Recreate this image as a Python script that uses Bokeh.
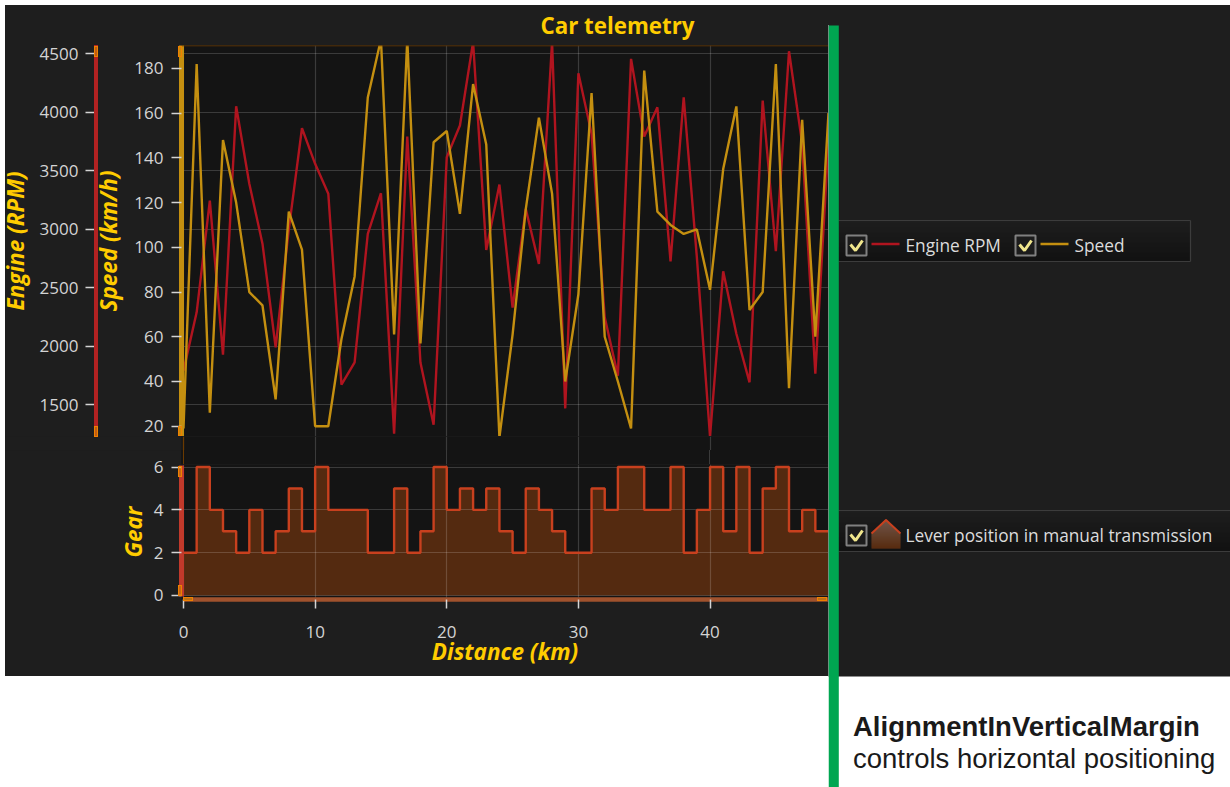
from bokeh.plotting import figure
from bokeh.layouts import row, column
from bokeh.models import Range1d, LinearAxis, FixedTicker, Grid, Span, Title, Div
from bokeh.core.properties import value
from bokeh.embed import file_html
from bokeh.resources import INLINE

title_text = "Car telemetry"
distance = list(range(50))
speed = [19, 182, 26, 148, 120, 80, 74, 32, 116, 99, 20, 20, 59, 87, 167, 193, 61, 193, 57, 147,
         152, 115, 173, 146, 15, 61, 117, 158, 124, 40, 79, 169, 60, 40, 19, 179, 116, 110, 106, 108,
         81, 135, 163, 72, 80, 182, 37, 157, 60, 160]
rpm = [1793, 2291, 3246, 1930, 4052, 3390, 2878, 1992, 3000, 3864, 3560, 3305, 1673, 1864, 2962, 3309, 1255, 3793, 1862, 1330,
       3616, 3887, 4600, 2824, 3383, 2331, 3175, 2705, 4600, 1470, 4334, 3817, 2249, 1750, 4457, 3793, 4043, 2727, 4129, 2761,
       1230, 2642, 2108, 1693, 4100, 2813, 4522, 3732, 1767, 3758]
gear = [2, 6, 4, 3, 2, 4, 2, 3, 5, 3, 6, 4, 4, 4, 2, 2, 5, 2, 3, 6,
        4, 5, 4, 5, 3, 2, 5, 4, 3, 2, 2, 5, 4, 6, 6, 4, 4, 6, 2, 4,
        6, 3, 6, 2, 5, 6, 3, 4, 3, 3]
speed_ticks = [20, 40, 60, 80, 100, 120, 140, 160, 180]
rpm_ticks = [1500, 2000, 2500, 3000, 3500, 4000, 4500]
gear_ticks = [0, 2, 4, 6]
x_ticks = [0, 10, 20, 30, 40]

PANEL = "#1e1e1e"; FRAME = "#141414"; TICK = "#d4d4d4"; YEL = "#ffcc00"
RED = "#b0141f"; GOLD = "#c48f10"; FONT = "Open Sans"
X_RANGE = (-0.152, 49.0)
OX = 7  # the stacked figures start this far left of the page edge
OY = 2  # and start at this page y

overlays = []
def overlay(l, t, r, b, color, border=None):
    st = {"position": "absolute", "left": f"{l + OX}px", "top": f"{t - OY}px", "background-color": color,
          "box-sizing": "border-box", "z-index": "5"}
    if border:
        st["border"] = f"1px solid {border}"
    overlays.append(Div(text="", width=int(round(r - l)), height=int(round(b - t)), margin=0, styles=st))

def handle(l, t, r, b):
    overlay(l, t, r, b, "rgba(200,134,10,0.6)", "#f08000")

def add_grids(p, yticks):
    if yticks:
        p.add_layout(Grid(dimension=1, ticker=FixedTicker(ticks=yticks), grid_line_color="white", grid_line_alpha=0.17,
                          grid_line_width=1.2, level="underlay"))
    p.add_layout(Grid(dimension=0, ticker=FixedTicker(ticks=x_ticks), grid_line_color="white", grid_line_alpha=0.17,
                      grid_line_width=1.2, level="underlay"))

def style_axis(a, color, w, tick_out=10, standoff=8):
    a.axis_line_color = color; a.axis_line_width = w
    a.major_tick_line_color = TICK; a.major_tick_line_width = 1.5
    a.major_tick_out = tick_out; a.major_tick_in = 0
    a.minor_tick_line_color = None
    a.major_label_text_color = TICK; a.major_label_text_font = FONT; a.major_label_text_font_size = "17px"
    a.major_label_standoff = standoff
    a.axis_label_text_color = YEL; a.axis_label_text_font = FONT
    a.axis_label_text_font_style = "bold italic"; a.axis_label_text_font_size = "22.5px"

base = dict(output_backend="svg", toolbar_location=None, x_axis_location=None, y_axis_location=None,
            background_fill_color=FRAME, border_fill_color=PANEL, outline_line_color=None,
            min_border_left=181 + OX, min_border_right=0, styles={"background-color": PANEL})

# ---------- upper chart ----------
p1 = figure(width=828 + OX, height=434, x_range=Range1d(*X_RANGE), y_range=Range1d(1230, 4571),
            min_border_top=43, min_border_bottom=0, **base)
p1.grid.visible = False
p1.title = Title(text=title_text, align="left", offset=359, text_color=YEL, text_font=FONT,
                 text_font_style="bold", text_font_size="22.3px", standoff=10)
add_grids(p1, rpm_ticks)
p1.extra_y_ranges = {"speed": Range1d(15.4, 190.25)}
sa = LinearAxis(y_range_name="speed", ticker=FixedTicker(ticks=speed_ticks), axis_label="Speed (km/h)", axis_label_standoff=7)
style_axis(sa, GOLD, 5)
ra = LinearAxis(ticker=FixedTicker(ticks=rpm_ticks), axis_label="Engine (RPM)", axis_label_standoff=6)
style_axis(ra, None, 4, tick_out=5, standoff=7)
ra.major_tick_in = 6
p1.add_layout(sa, "left")
p1.add_layout(ra, "left")
p1.line(distance, rpm, line_color=RED, line_width=2.4)
p1.line(distance, speed, y_range_name="speed", line_color=GOLD, line_width=2.4)
p1.add_layout(Span(location=4571, dimension="width", line_color="#6b3a00", line_width=1.5))

# ---------- gap between the two stacked charts ----------
gap = figure(width=828 + OX, height=14, x_range=Range1d(*X_RANGE), y_range=Range1d(0, 1),
             min_border_top=0, min_border_bottom=0, **base)
gap.grid.visible = False
add_grids(gap, [])
gap.add_layout(Span(location=0, dimension="height", line_color="#6b3a00", line_width=1.2))

# ---------- lower chart ----------
p2 = figure(width=828 + OX, height=226, x_range=Range1d(*X_RANGE), y_range=Range1d(-0.187, 6.12),
            min_border_top=14, min_border_bottom=77, **base)
p2.grid.visible = False
ga = LinearAxis(ticker=FixedTicker(ticks=gear_ticks), axis_label="Gear", axis_label_standoff=2, bounds=(-0.05, 6.05))
style_axis(ga, "#c0392b", 5)
p2.add_layout(ga, "left")
xa = LinearAxis(ticker=FixedTicker(ticks=x_ticks), axis_label="Distance (km)", axis_label_standoff=-5, bounds=(0, 49))
style_axis(xa, "#a0522d", 4.5, tick_out=9, standoff=17)
p2.add_layout(xa, "below")
p2.varea_step(x=distance, y1=[0] * len(gear), y2=gear, step_mode="after", fill_color="#542a10", level="underlay")
add_grids(p2, gear_ticks)
p2.step(distance, gear, mode="after", line_color="#c8401e", line_width=2.4)

# ---------- overlays in page pixels ----------
overlay(0, 0, 828, 5, "white")
overlay(0, 0, 5, 676, "white")
overlay(826, 5, 1230, 7, PANEL)
overlay(826, 5, 830, 25, PANEL)
overlay(181, 450, 828, 464, FRAME)
overlay(183, 450, 184, 464, "#6b3a00")
for t in x_ticks[1:]:
    overlay(183 + 13.16 * t, 450, 184 + 13.16 * t, 464, "rgba(255,255,255,0.17)")
overlay(94, 45, 98, 436, "#b22222")
handle(178, 46, 182, 57)
handle(178, 426, 182, 436)
handle(94, 46, 98, 57)
handle(94, 426, 98, 437)
handle(178, 466, 182, 477)
handle(178, 585, 182, 596)
handle(183, 597, 193, 601)
handle(817, 597, 827, 601)

# ---------- right side: green marker, legends, caption ----------
p3 = figure(width=402, height=785, output_backend="svg", toolbar_location=None,
            x_axis_location=None, y_axis_location=None,
            x_range=Range1d(828, 1230), y_range=Range1d(787, 2),
            background_fill_color="white", border_fill_color="white", outline_line_color=None,
            min_border=0)
p3.grid.visible = False
p3.quad(left=[820], right=[1240], top=[5], bottom=[676], fill_color=PANEL, line_color=None)

def legend_box(top, bottom, right):
    n = bottom - top
    for i in range(n):
        f = i / max(n - 1, 1)
        c = int(round(0x1e + (0x0e - 0x1e) * f))
        p3.quad(left=[838], right=[right], top=[top + i], bottom=[top + i + 1],
                fill_color=f"#{c:02x}{c:02x}{c:02x}", line_color=None)
    p3.multi_line([[838, right], [838, right], [right, right]], [[top, top], [bottom, bottom], [top, bottom]],
                  line_color="#3c3c3c", line_width=1.2)

def checkbox(x, y):
    p3.quad(left=[x], right=[x + 20], top=[y], bottom=[y + 20], fill_color="#1c1c1c", line_color="#808080", line_width=2)
    p3.line([x + 4, x + 9, x + 16], [y + 9, y + 15, y + 5], line_color="#f0e68c", line_width=3)

legend_box(220, 261, 1190)
checkbox(846, 235)
p3.line([871, 899], [243.5, 243.5], line_color=RED, line_width=2.5)
checkbox(1015, 235)
p3.line([1040, 1068], [243.5, 243.5], line_color=GOLD, line_width=2.5)
legend_box(510, 551, 1232)
checkbox(846, 525)
for i in range(29):
    yy = 519 + i
    half = min(14.5, (i + 0.5) * 1.05)
    f = i / 28
    c = [int(round(a + (b - a) * f)) for a, b in zip((0x8c, 0x6a, 0x5a), (0x70, 0x35, 0x10))]
    p3.quad(left=[885.5 - half], right=[885.5 + half], top=[yy], bottom=[yy + 1],
            fill_color="#%02x%02x%02x" % tuple(c), line_color=None)
p3.line([871, 885.5, 900], [533, 519.5, 533], line_color="#c8401e", line_width=2)

txt = dict(text_font=value(FONT), text_font_size="17.3px", text_color="#dcdcdc", text_baseline="middle")
p3.text(x=[905], y=[245], text=["Engine RPM"], **txt)
p3.text(x=[1074], y=[245], text=["Speed"], **txt)
p3.text(x=[905], y=[535], text=["Lever position in manual transmission"], **txt)
p3.quad(left=[828], right=[838.3], top=[25], bottom=[787], fill_color="#00a651", line_color=None)
p3.text(x=[852.5], y=[726], text=["AlignmentInVerticalMargin"], text_font=value("Liberation Sans"), text_font_style="bold",
        text_font_size="27.5px", text_color="#1a1a1a", text_baseline="middle")
p3.text(x=[852.5], y=[758], text=["controls horizontal positioning"], text_font=value("Liberation Sans"),
        text_font_size="27.5px", text_color="#1a1a1a", text_baseline="middle")

layout = row([column(p1, gap, p2, spacing=0), p3] + overlays, spacing=0, margin=(OY, 0, 0, -OX))
open("out.html", "w").write(file_html(layout, INLINE))
